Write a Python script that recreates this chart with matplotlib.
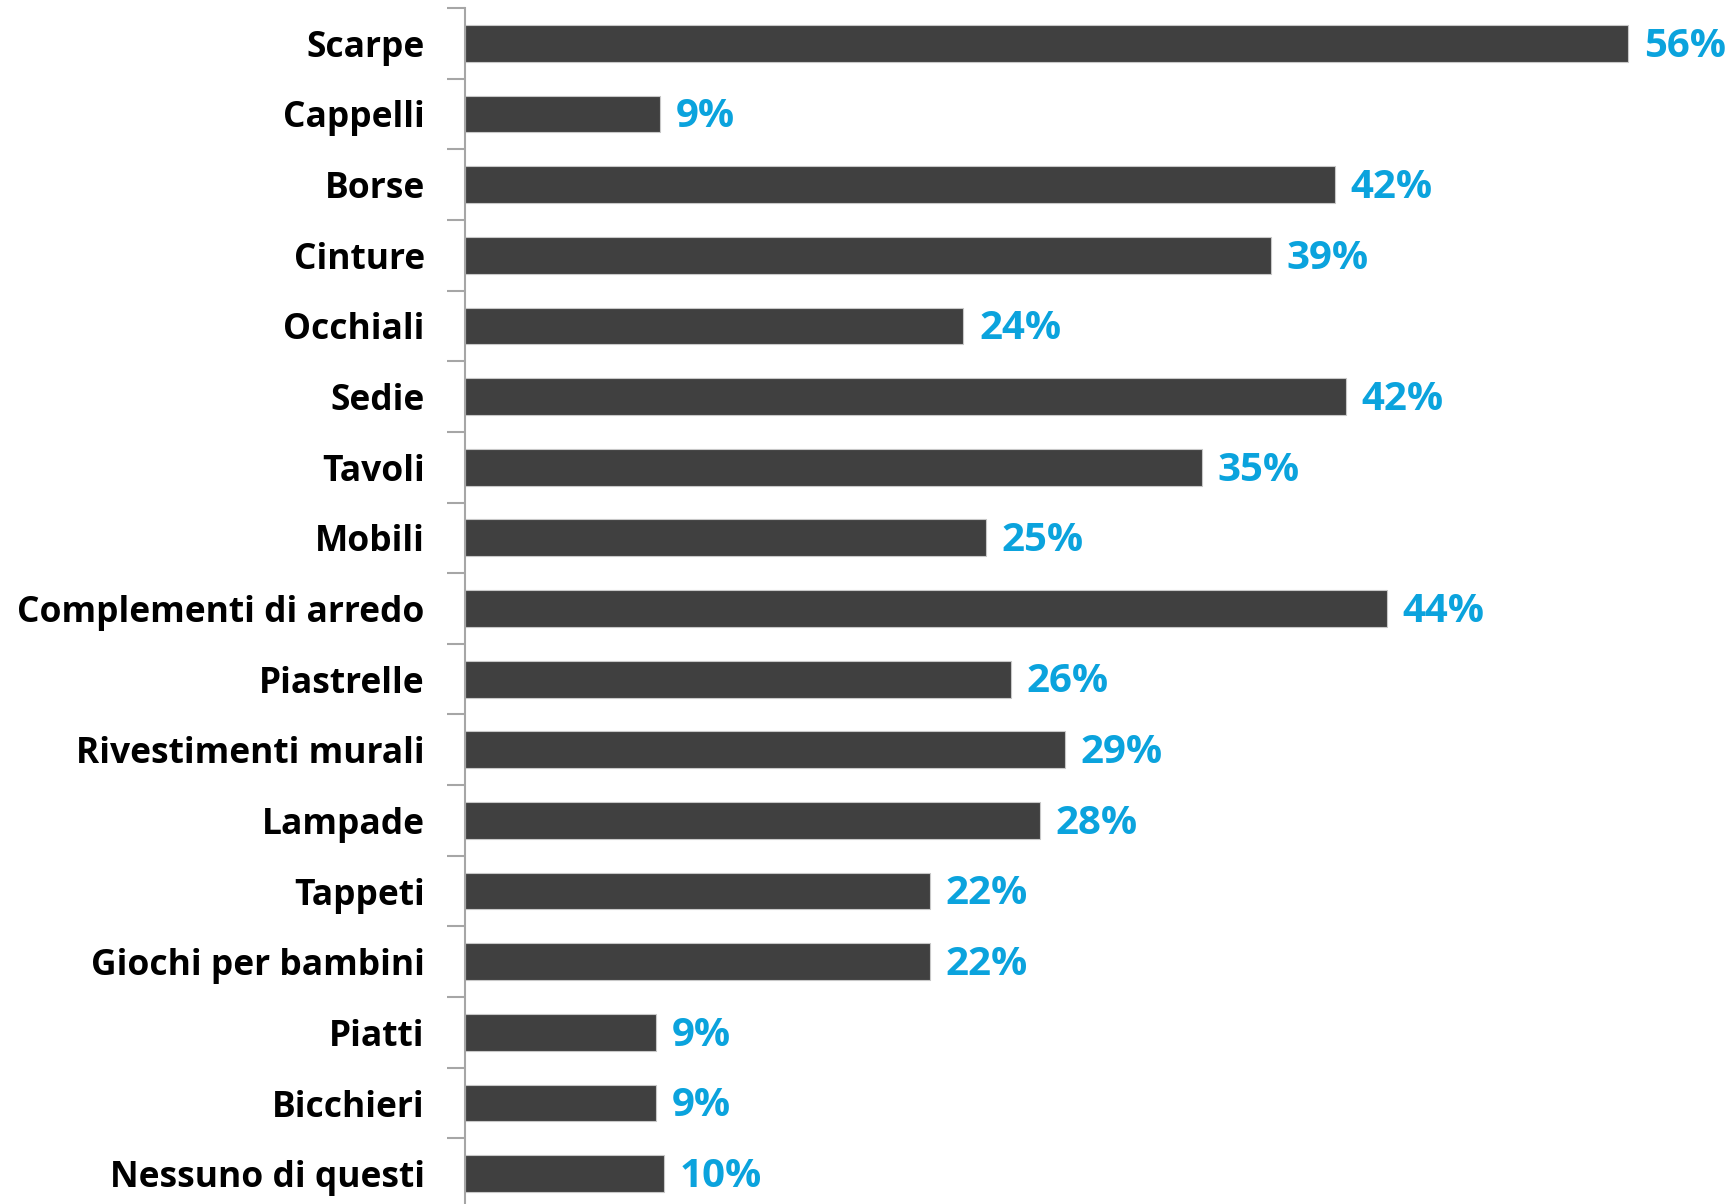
import numpy as np
import matplotlib
matplotlib.use('Agg')
import matplotlib.pyplot as plt

# Categories, top to bottom.
categories = ['Scarpe', 'Cappelli', 'Borse', 'Cinture', 'Occhiali', 'Sedie',
              'Tavoli', 'Mobili', 'Complementi di arredo', 'Piastrelle',
              'Rivestimenti murali', 'Lampade', 'Tappeti', 'Giochi per bambini',
              'Piatti', 'Bicchieri', 'Nessuno di questi']
# Bar lengths (%).
values = [56.0, 9.4, 41.9, 38.8, 24.0, 42.4, 35.5, 25.1, 44.4, 26.3,
          28.9, 27.7, 22.4, 22.4, 9.2, 9.2, 9.6]
# Printed labels.
labels = ['56%', '9%', '42%', '39%', '24%', '42%', '35%', '25%', '44%', '26%',
          '29%', '28%', '22%', '22%', '9%', '9%', '10%']

plt.rcParams['font.family'] = ['Open Sans', 'DejaVu Sans']

fig = plt.figure(figsize=(17.34, 12.04), dpi=100)
# Axis line sits at x=465px; plot runs slightly past the bottom edge.
ax = fig.add_axes([465/1734, -5/1204, 1 - 465/1734, 1201/1204])

n = len(categories)
y = np.arange(n)
ax.barh(y, values, height=0.52, color='#404040', edgecolor='#c8c8c8', linewidth=0.8)

for yi, v, lab in zip(y, values, labels):
    ax.text(v + 0.75, yi + 0.04, lab, va='center', ha='left', color='#0ba3dd',
            fontsize=29, fontweight='bold')

ax.set_ylim(n - 0.5, -0.5)
ax.set_xlim(0, 1269/20.77)

# Category names as text on the left.
ax.set_yticks(y)
ax.set_yticklabels(categories, fontsize=25.5, fontweight='bold', color='black')
ax.tick_params(axis='y', which='major', length=0, pad=29)
# Tick marks on category boundaries.
ax.set_yticks(np.arange(n + 1) - 0.5, minor=True)
ax.tick_params(axis='y', which='minor', length=13, width=1.5, color='#a6a6a6')

ax.set_xticks([])
for s in ['top', 'right', 'bottom']:
    ax.spines[s].set_visible(False)
ax.spines['left'].set_color('#a6a6a6')
ax.spines['left'].set_linewidth(1.5)

fig.savefig('out.png', dpi=100)
